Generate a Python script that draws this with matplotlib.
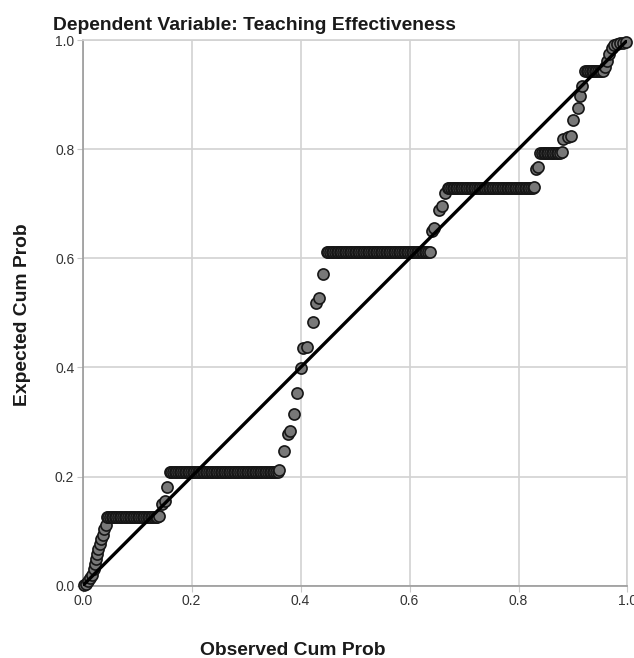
import matplotlib
matplotlib.use("Agg")
from matplotlib import pyplot as plt

# P-P plot of regression residuals.
# rising stretches: observed / expected cum prob pairs
rise_obs_1 = [0.002, 0.006, 0.010, 0.014, 0.017, 0.020, 0.022, 0.024, 0.026,
              0.029, 0.031, 0.034, 0.037, 0.040, 0.042]
rise_exp_1 = [0.002, 0.004, 0.008, 0.014, 0.020, 0.030, 0.040, 0.048, 0.058,
              0.068, 0.076, 0.086, 0.093, 0.104, 0.112]
rise_obs_2 = [0.140, 0.146, 0.151, 0.155]
rise_exp_2 = [0.127, 0.150, 0.156, 0.180]
rise_obs_3 = [0.361, 0.369, 0.377, 0.381, 0.388, 0.394, 0.400, 0.405, 0.412,
              0.422, 0.429, 0.434, 0.441]
rise_exp_3 = [0.212, 0.246, 0.278, 0.284, 0.315, 0.354, 0.399, 0.435, 0.438,
              0.484, 0.518, 0.527, 0.572]
rise_obs_4 = [0.637, 0.641, 0.645, 0.654, 0.659, 0.665]
rise_exp_4 = [0.612, 0.650, 0.655, 0.689, 0.695, 0.720]
rise_obs_5 = [0.829, 0.832, 0.836]
rise_exp_5 = [0.730, 0.763, 0.767]
rise_obs_6 = [0.879, 0.882, 0.890, 0.897, 0.900, 0.909, 0.912, 0.916]
rise_exp_6 = [0.794, 0.819, 0.822, 0.824, 0.853, 0.876, 0.897, 0.916]
rise_obs_7 = [0.958, 0.962, 0.967, 0.972, 0.976, 0.980, 0.986, 0.992, 0.997]
rise_exp_7 = [0.950, 0.961, 0.974, 0.986, 0.990, 0.993, 0.994, 0.995, 0.996]

# flat stretches (tied residuals): observed cum prob at one expected level
tie_obs_1 = [0.044, 0.047, 0.050, 0.053, 0.056, 0.059, 0.062, 0.065, 0.068,
             0.071, 0.074, 0.077, 0.080, 0.083, 0.086, 0.089, 0.092, 0.095,
             0.098, 0.101, 0.104, 0.107, 0.110, 0.113, 0.116, 0.119, 0.122,
             0.125, 0.128, 0.131, 0.134, 0.137]
tie_obs_2 = [0.160, 0.163, 0.166, 0.169, 0.172, 0.175, 0.178, 0.181, 0.184,
             0.187, 0.190, 0.193, 0.196, 0.199, 0.202, 0.205, 0.208, 0.211,
             0.214, 0.217, 0.220, 0.223, 0.226, 0.229, 0.232, 0.235, 0.238,
             0.241, 0.244, 0.247, 0.250, 0.253, 0.256, 0.259, 0.262, 0.265,
             0.268, 0.271, 0.274, 0.277, 0.280, 0.283, 0.286, 0.289, 0.292,
             0.295, 0.298, 0.301, 0.304, 0.307, 0.310, 0.313, 0.316, 0.319,
             0.322, 0.325, 0.328, 0.331, 0.334, 0.337, 0.340, 0.343, 0.346,
             0.349, 0.352, 0.355, 0.358]
tie_obs_3 = [0.448, 0.451, 0.454, 0.457, 0.460, 0.463, 0.466, 0.469, 0.472,
             0.475, 0.478, 0.481, 0.484, 0.487, 0.490, 0.493, 0.496, 0.499,
             0.502, 0.505, 0.508, 0.511, 0.514, 0.517, 0.520, 0.523, 0.526,
             0.529, 0.532, 0.535, 0.538, 0.541, 0.544, 0.547, 0.550, 0.553,
             0.556, 0.559, 0.562, 0.565, 0.568, 0.571, 0.574, 0.577, 0.580,
             0.583, 0.586, 0.589, 0.592, 0.595, 0.598, 0.601, 0.604, 0.607,
             0.610, 0.613, 0.616, 0.619, 0.622, 0.625, 0.628, 0.631, 0.634]
tie_obs_4 = [0.670, 0.673, 0.676, 0.679, 0.682, 0.685, 0.688, 0.691, 0.694,
             0.697, 0.700, 0.703, 0.706, 0.709, 0.712, 0.715, 0.718, 0.721,
             0.724, 0.727, 0.730, 0.733, 0.736, 0.739, 0.742, 0.745, 0.748,
             0.751, 0.754, 0.757, 0.760, 0.763, 0.766, 0.769, 0.772, 0.775,
             0.778, 0.781, 0.784, 0.787, 0.790, 0.793, 0.796, 0.799, 0.802,
             0.805, 0.808, 0.811, 0.814, 0.817, 0.820, 0.823, 0.826]
tie_obs_5 = [0.840, 0.843, 0.846, 0.849, 0.852, 0.855, 0.858, 0.861, 0.864,
             0.867, 0.870, 0.873, 0.876]
tie_obs_6 = [0.922, 0.925, 0.928, 0.931, 0.934, 0.937, 0.940, 0.943, 0.946,
             0.949, 0.952, 0.955]
tie_levels = [0.125, 0.209, 0.611, 0.729, 0.793, 0.943]

ticks = [0.0, 0.2, 0.4, 0.6, 0.8, 1.0]
tick_labels = ["0.0", "0.2", "0.4", "0.6", "0.8", "1.0"]

# put the points in order along the observed axis
segments = [
    (rise_obs_1, rise_exp_1),
    (tie_obs_1, [tie_levels[0]] * len(tie_obs_1)),
    (rise_obs_2, rise_exp_2),
    (tie_obs_2, [tie_levels[1]] * len(tie_obs_2)),
    (rise_obs_3, rise_exp_3),
    (tie_obs_3, [tie_levels[2]] * len(tie_obs_3)),
    (rise_obs_4, rise_exp_4),
    (tie_obs_4, [tie_levels[3]] * len(tie_obs_4)),
    (rise_obs_5, rise_exp_5),
    (tie_obs_5, [tie_levels[4]] * len(tie_obs_5)),
    (rise_obs_6, rise_exp_6),
    (tie_obs_6, [tie_levels[5]] * len(tie_obs_6)),
    (rise_obs_7, rise_exp_7),
]
obs_cum_prob = []
exp_cum_prob = []
for o, e in segments:
    obs_cum_prob += o
    exp_cum_prob += e

plt.rcParams['font.family'] = ['Liberation Sans', 'DejaVu Sans']

fig = plt.figure(figsize=(6.34, 6.58), dpi=100)
ax = fig.add_axes([0.1304, 0.1099, 0.8593, 0.8293])

ax.scatter(obs_cum_prob, exp_cum_prob, s=64, c='#787878', edgecolors='#161616',
           linewidths=1.2, zorder=3, clip_on=False)
ax.plot([0, 1], [0, 1], color='black', lw=2.4, zorder=4, solid_capstyle='butt')

ax.set_xlim(0, 1)
ax.set_ylim(0, 1)
ax.set_xticks(ticks)
ax.set_yticks(ticks)
ax.set_xticklabels(tick_labels)
ax.set_yticklabels(tick_labels)
ax.grid(True, color='#d2d2d2', lw=1.2)
ax.set_axisbelow(True)
ax.tick_params(length=4, color='#c8c8c8', labelsize=10, labelcolor='#333333', pad=2)
for side in ['top', 'right']:
    ax.spines[side].set_color('#d2d2d2')
    ax.spines[side].set_linewidth(1.2)
for side in ['left', 'bottom']:
    ax.spines[side].set_color('#9a9a9a')
    ax.spines[side].set_linewidth(1.2)

fig.text(53 / 634, 1 - 29.5 / 658, "Dependent Variable: Teaching Effectiveness",
         fontsize=13.9, fontweight='bold', ha='left', va='baseline', color='#1a1a1a')
fig.text(293 / 634, 1 - 655 / 658, "Observed Cum Prob",
         fontsize=13.9, fontweight='bold', ha='center', va='baseline', color='#1a1a1a')
fig.text(31.5 / 634, 1 - 315 / 658, "Expected Cum Prob", rotation=90,
         fontsize=13.9, fontweight='bold', ha='right', va='center', color='#1a1a1a')

fig.savefig("out.png", dpi=100)
